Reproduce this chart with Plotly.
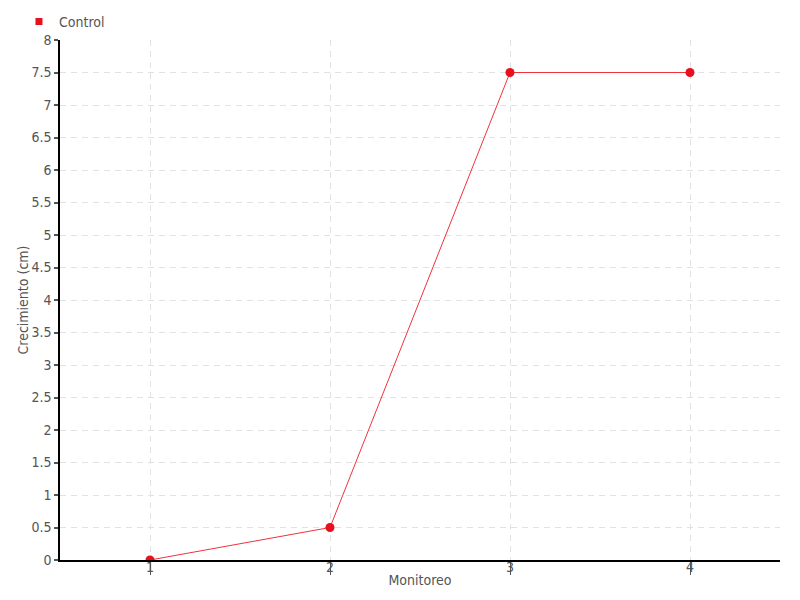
import plotly.graph_objects as go

monitoreo = [1, 2, 3, 4]
crecimiento = [0, 0.5, 7.5, 7.5]
serie = "Control"

FONT = "DejaVu Sans Condensed"

fig = go.Figure()
fig.add_trace(go.Scatter(
    x=monitoreo, y=crecimiento, name=serie, mode="lines+markers",
    line=dict(color="#f0323c", width=1),
    marker=dict(color="#e8101e", size=9),
    showlegend=False,
))
fig.add_trace(go.Scatter(
    x=[None], y=[None], name=serie, mode="markers",
    marker=dict(color="#e8101e", size=7, symbol="square"),
))

fig.update_layout(
    width=800, height=600,
    paper_bgcolor="white", plot_bgcolor="white",
    margin=dict(l=52, r=28, t=32, b=48, autoexpand=False),
    font=dict(family=FONT, size=14, color="#555555"),
    showlegend=True,
    legend=dict(x=-0.057, y=1.004, xanchor="left", yanchor="bottom", orientation="h",
                font=dict(family=FONT, size=14, color="#555555"),
                bgcolor="rgba(0,0,0,0)"),
    xaxis=dict(
        range=[0.5, 4.5], tickvals=monitoreo, ticktext=[str(v) for v in monitoreo],
        showline=True, linecolor="black", linewidth=1.5,
        showgrid=True, gridcolor="#e2e2e2", griddash="6px,5px", gridwidth=1,
        ticks="outside", ticklen=13, tickcolor="#555555", tickwidth=1,
        ticklabelstandoff=-20, zeroline=False,
        title=dict(text="Monitoreo", standoff=2, font=dict(family=FONT, size=14, color="#555555")),
    ),
    yaxis=dict(
        range=[0, 8], dtick=0.5,
        showline=True, linecolor="black", linewidth=1.5,
        showgrid=True, gridcolor="#e2e2e2", griddash="6px,5px", gridwidth=1,
        ticks="outside", ticklen=4, tickcolor="#555555", tickwidth=2,
        zeroline=False,
        title=dict(text="Crecimiento (cm)", standoff=0, font=dict(family=FONT, size=14, color="#555555")),
    ),
)

fig.write_html("out.html")
